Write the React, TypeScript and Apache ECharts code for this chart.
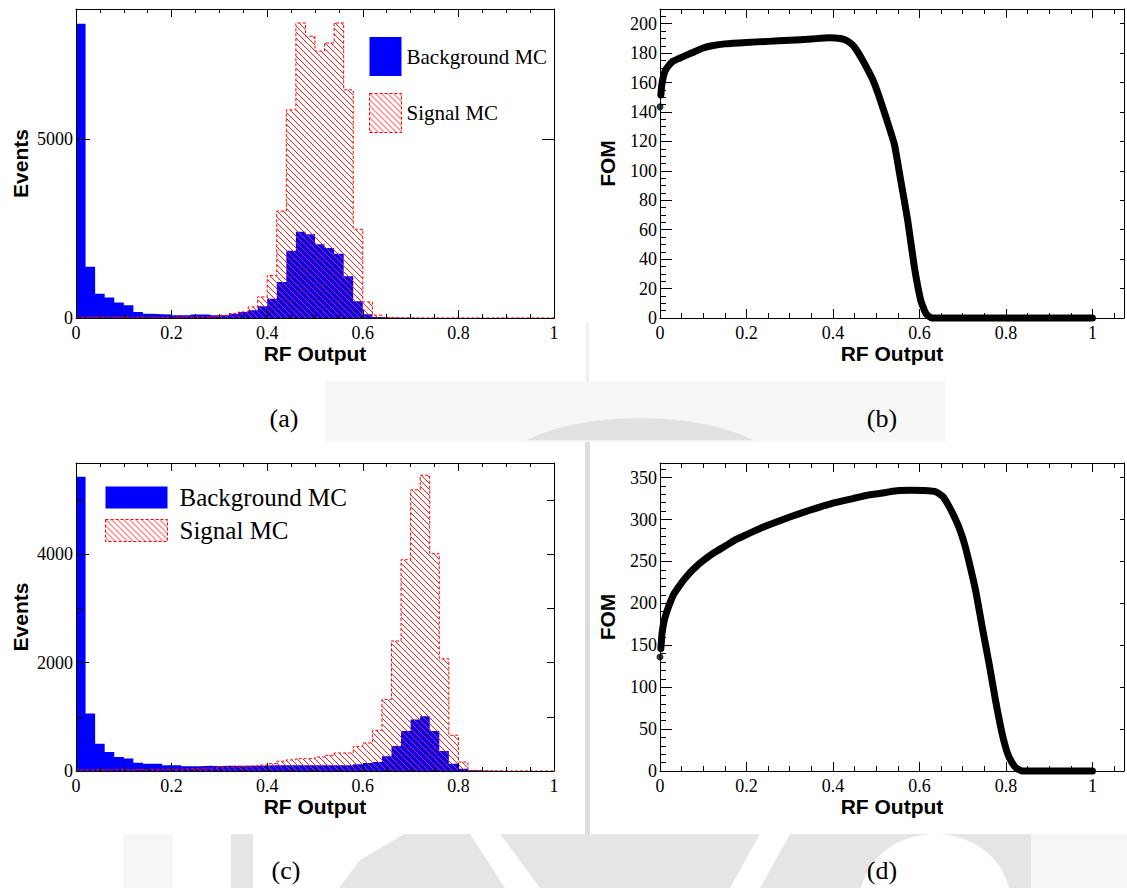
import React, { useEffect, useRef } from "react";
import * as echarts from "echarts";

// ---------------- data ----------------
const BIN_WIDTH = 0.02;

// panel (a) histograms (50 bins of 0.02 over RF output 0..1)
const bkgA = [
  8230, 1430, 680, 570, 430, 355, 170, 120, 105, 100,
  75, 75, 100, 100, 80, 75, 120, 170, 215, 330,
  540, 1010, 1880, 2410, 2340, 2060, 1960, 1800, 1170, 470,
  105, 25, 10, 6, 4, 3, 3, 2, 2, 2,
  2, 1, 1, 1, 1, 1, 1, 1, 1, 1,
];
const sigA = [
  18, 18, 20, 20, 22, 22, 24, 24, 26, 26,
  28, 30, 32, 36, 45, 75, 120, 170, 310, 590,
  1190, 2990, 5820, 8250, 7880, 7460, 7690, 8250, 6380, 2480,
  450, 80, 12, 5, 2, 2, 2, 2, 2, 2,
  2, 2, 2, 2, 2, 2, 2, 2, 2, 2,
];

// panel (c) histograms
const bkgC = [
  5430, 1060, 505, 350, 260, 230, 150, 135, 135, 105,
  105, 86, 86, 98, 86, 95, 98, 98, 98, 100,
  105, 105, 105, 105, 105, 105, 105, 105, 105, 123,
  148, 166, 270, 460, 740, 950, 1010, 740, 370, 135,
  43, 12, 5, 3, 2, 2, 1, 1, 1, 1,
];
const sigC = [
  20, 20, 22, 22, 25, 25, 28, 30, 32, 35,
  38, 45, 50, 55, 62, 70, 80, 88, 95, 110,
  135, 180, 205, 228, 228, 258, 290, 332, 332, 455,
  517, 750, 1320, 2400, 3900, 5190, 5460, 4010, 2070, 660,
  166, 12, 3, 2, 1, 1, 1, 1, 1, 1,
];

// panel (b) FOM curve (first point is the isolated dot at RF = 0)
const rfB = [
  0, 0.002, 0.004, 0.007, 0.012, 0.02, 0.03, 0.045, 0.06, 0.08,
  0.1, 0.12, 0.15, 0.2, 0.25, 0.3, 0.35, 0.39, 0.42, 0.435,
  0.45, 0.465, 0.48, 0.492, 0.505, 0.523, 0.542, 0.557, 0.573, 0.588,
  0.603, 0.615, 0.628, 1.0,
];
const fomB = [
  143.5, 151.5, 158, 163, 168, 171.5, 174.5, 176.5, 178.5, 181,
  183.5, 185, 186.3, 187.3, 188, 188.7, 189.6, 190.5, 189.8, 188,
  184, 177, 169, 162, 152, 136, 118, 93, 66, 35,
  12, 3, 0, 0,
];

// panel (d) FOM curve
const rfD = [
  0, 0.002, 0.005, 0.01, 0.017, 0.025, 0.032, 0.045, 0.055, 0.07,
  0.086, 0.1, 0.124, 0.15, 0.175, 0.2, 0.23, 0.254, 0.3, 0.346,
  0.4, 0.446, 0.485, 0.507, 0.53, 0.553, 0.58, 0.61, 0.638, 0.655,
  0.668, 0.68, 0.691, 0.703, 0.714, 0.73, 0.745, 0.761, 0.776, 0.791,
  0.803, 0.814, 0.825, 0.837, 1.0,
];
const fomD = [
  136, 146, 165, 180, 192, 203, 211, 221, 228, 237,
  245, 251, 260, 268, 276, 282, 289, 294, 303, 311,
  319.5, 325, 329.5, 331, 333, 334.5, 335, 334.5, 333, 327,
  316, 304, 291, 273, 251, 215, 172, 128, 84, 45,
  22, 10, 3, 0, 0,
];

const legendNames = ["Background MC", "Signal MC"];
const panelLetters = ["(a)", "(b)", "(c)", "(d)"];
const xTitle = "RF Output";
const yTitleHist = "Events";
const yTitleFom = "FOM";

// ---------------- styling helpers ----------------
const SERIF = "'Liberation Serif', 'Times New Roman', serif";
const SANS = "'Liberation Sans', Arial, Helvetica, sans-serif";
const BLACK = "#000";

function hatchPattern() {
  const size = 6;
  const c = document.createElement("canvas");
  c.width = size;
  c.height = size;
  const ctx = c.getContext("2d");
  if (ctx) {
    ctx.strokeStyle = "#ff1a1a";
    ctx.lineWidth = 1;
    ctx.beginPath();
    for (const off of [-size, 0, size]) {
      ctx.moveTo(off - 1, -1);
      ctx.lineTo(off + size + 1, size + 1);
    }
    ctx.stroke();
  }
  return { image: c.toDataURL(), repeat: "repeat", imageWidth: size, imageHeight: size };
}

function steps(vals: number[]) {
  const pts = vals.map((v, i) => [+(i * BIN_WIDTH).toFixed(3), v]);
  pts.push([+(vals.length * BIN_WIDTH).toFixed(3), vals[vals.length - 1]]);
  return pts;
}

function fmt(interval: number) {
  return (v: number) => {
    const r = v / interval;
    if (Math.abs(r - Math.round(r)) > 1e-6) return "";
    return String(parseFloat(v.toFixed(4)));
  };
}

type Panel = {
  grid: { left: number; top: number; width: number; height: number };
  xMax: number;
  yMax: number;
  yMajor: number;
  yMinor: number | null;
  yRight: number;
  yMajorLen: number;
  yMinorLen: number;
  yRightLen: number;
  xMajorLen: number;
  xMinorLen: number;
  yName: string;
  yNameGap: number;
};

const panels: Panel[] = [
  {
    grid: { left: 76, top: 9, width: 478, height: 309 },
    xMax: 1, yMax: 8640, yMajor: 5000, yMinor: null, yRight: 5000,
    yMajorLen: 14, yMinorLen: 7, yRightLen: 12, xMajorLen: 8, xMinorLen: 4,
    yName: yTitleHist, yNameGap: 45,
  },
  {
    grid: { left: 660, top: 9, width: 466, height: 309 },
    xMax: 1.073, yMax: 210, yMajor: 20, yMinor: 5, yRight: 20,
    yMajorLen: 12, yMinorLen: 6, yRightLen: 4, xMajorLen: 9, xMinorLen: 5,
    yName: yTitleFom, yNameGap: 42,
  },
  {
    grid: { left: 76, top: 463, width: 478, height: 308 },
    xMax: 1, yMax: 5685, yMajor: 2000, yMinor: 1000, yRight: 1000,
    yMajorLen: 13, yMinorLen: 7, yRightLen: 7, xMajorLen: 8, xMinorLen: 4,
    yName: yTitleHist, yNameGap: 45,
  },
  {
    grid: { left: 660, top: 463, width: 466, height: 308 },
    xMax: 1.073, yMax: 367.4, yMajor: 50, yMinor: 10, yRight: 50,
    yMajorLen: 12, yMinorLen: 6, yRightLen: 4, xMajorLen: 9, xMinorLen: 5,
    yName: yTitleFom, yNameGap: 42,
  },
];

function buildAxes(gi: number, p: Panel) {
  const line = { color: BLACK, width: 1 };
  const xBase = { type: "value", gridIndex: gi, min: 0, max: p.xMax, splitLine: { show: false }, z: 6 };
  const titleStyle = { fontFamily: SANS, fontWeight: "bold", fontSize: 21, color: BLACK };
  const xs = [
    {
      ...xBase, position: "bottom", interval: 0.2,
      axisLine: { show: true, onZero: false, lineStyle: line },
      axisTick: { show: true, inside: true, length: p.xMajorLen, lineStyle: line },
      axisLabel: { show: true, fontFamily: SERIF, fontSize: 18, color: BLACK, margin: 6, formatter: fmt(0.2) },
      name: xTitle, nameLocation: "middle", nameGap: 24, nameTextStyle: titleStyle,
    },
    {
      ...xBase, position: "bottom", interval: 0.05,
      axisLine: { show: false, onZero: false },
      axisTick: { show: true, inside: true, length: p.xMinorLen, lineStyle: line },
      axisLabel: { show: false },
    },
    {
      ...xBase, position: "top", interval: 0.2,
      axisLine: { show: true, onZero: false, lineStyle: line },
      axisTick: { show: true, inside: true, length: p.xMajorLen, lineStyle: line },
      axisLabel: { show: false },
    },
    {
      ...xBase, position: "top", interval: 0.05,
      axisLine: { show: false, onZero: false },
      axisTick: { show: true, inside: true, length: p.xMinorLen, lineStyle: line },
      axisLabel: { show: false },
    },
  ];
  const yBase = { type: "value", gridIndex: gi, min: 0, max: p.yMax, splitLine: { show: false }, z: 6 };
  const ys = [
    {
      ...yBase, position: "left", interval: p.yMajor,
      axisLine: { show: true, onZero: false, lineStyle: line },
      axisTick: { show: true, inside: true, length: p.yMajorLen, lineStyle: line },
      axisLabel: { show: true, fontFamily: SERIF, fontSize: 18, color: BLACK, margin: 3, formatter: fmt(p.yMajor) },
      name: p.yName, nameLocation: "middle", nameGap: p.yNameGap, nameTextStyle: titleStyle,
    },
    {
      ...yBase, position: "left", interval: p.yMinor ?? p.yMajor,
      axisLine: { show: false, onZero: false },
      axisTick: { show: p.yMinor != null, inside: true, length: p.yMinorLen, lineStyle: line },
      axisLabel: { show: false },
    },
    {
      ...yBase, position: "right", interval: p.yRight,
      axisLine: { show: true, onZero: false, lineStyle: line },
      axisTick: { show: true, inside: true, length: p.yRightLen, lineStyle: line },
      axisLabel: { show: false },
    },
  ];
  return { xs, ys };
}

function ellipsePts(cx: number, cy: number, rx: number, ry: number, a0: number, a1: number, n: number) {
  const pts: number[][] = [];
  for (let i = 0; i <= n; i++) {
    const a = a0 + ((a1 - a0) * i) / n;
    pts.push([cx + rx * Math.cos(a), cy + ry * Math.sin(a)]);
  }
  return pts;
}

function buildOption() {
  const hatch = hatchPattern();
  const xAxis: any[] = [];
  const yAxis: any[] = [];
  panels.forEach((p, gi) => {
    const { xs, ys } = buildAxes(gi, p);
    xAxis.push(...xs);
    yAxis.push(...ys);
  });

  const histSeries = (gi: number, bkg: number[], sig: number[]) => [
    {
      type: "line", name: legendNames[0], xAxisIndex: gi * 4, yAxisIndex: gi * 3,
      data: steps(bkg), step: "end", symbol: "none", silent: true,
      lineStyle: { width: 0, color: "#0000ff" },
      itemStyle: { color: "#0000ff" },
      areaStyle: { color: "#0000ff", opacity: 1 },
      z: 2,
    },
    {
      type: "line", name: legendNames[1], xAxisIndex: gi * 4, yAxisIndex: gi * 3,
      data: steps(sig), step: "end", symbol: "none", silent: true,
      lineStyle: { width: 1, color: "#ff0000", type: [3, 2] },
      itemStyle: { color: "#ff0000" },
      areaStyle: { color: hatch, opacity: 1 },
      z: 3,
    },
  ];

  const fomSeries = (gi: number, rf: number[], fom: number[]) => [
    {
      type: "line", xAxisIndex: gi * 4, yAxisIndex: gi * 3,
      data: rf.slice(1).map((x, i) => [x, fom[i + 1]]),
      symbol: "none", silent: true, clip: false, smooth: 0.15,
      lineStyle: { width: 7, color: BLACK, cap: "round", join: "round" },
      z: 3,
    },
    {
      type: "scatter", xAxisIndex: gi * 4, yAxisIndex: gi * 3,
      data: [[rf[0], fom[0]]], symbolSize: 7, silent: true, clip: false,
      itemStyle: { color: BLACK },
      z: 3,
    },
  ];

  const legendItems = [
    { name: legendNames[0], icon: "rect", itemStyle: { color: "#0000ff", borderWidth: 0 } },
    {
      name: legendNames[1], icon: "rect",
      itemStyle: { color: hatch, borderColor: "#ff0000", borderWidth: 1, borderType: [3, 2] },
    },
  ];

  const letterPos = [
    [284, 418],
    [882, 418],
    [286, 870],
    [882, 870],
  ];

  const wm = "#e5e5e5";
  const graphic: any[] = [
    // faint watermark remnants in the gaps between panels
    { type: "rect", shape: { x: 586, y: 322, width: 3, height: 60 }, style: { fill: "#f0f0f0" }, z: -5 },
    { type: "rect", shape: { x: 325, y: 381, width: 621, height: 61 }, style: { fill: "#f7f7f7" }, z: -5 },
    {
      type: "polygon",
      shape: { points: ellipsePts(640, 472, 140, 54, Math.PI, 2 * Math.PI, 40).filter((pt) => pt[1] <= 442) },
      style: { fill: "#e2e2e2" }, z: -4,
    },
    { type: "rect", shape: { x: 585, y: 442, width: 5, height: 392 }, style: { fill: "#dcdcdc" }, z: -5 },
    { type: "rect", shape: { x: 231, y: 834, width: 800, height: 54 }, style: { fill: wm }, z: -5 },
    { type: "rect", shape: { x: 123, y: 834, width: 50, height: 54 }, style: { fill: "#f6f6f6" }, z: -5 },
    { type: "rect", shape: { x: 1031, y: 834, width: 96, height: 54 }, style: { fill: "#f6f6f6" }, z: -5 },
    { type: "rect", shape: { x: 253, y: 834, width: 86, height: 54 }, style: { fill: "#fff" }, z: -4 },
    { type: "polygon", shape: { points: [[339, 888], [360, 860], [404, 834], [339, 834]] }, style: { fill: "#fff" }, z: -4 },
    { type: "polygon", shape: { points: [[470, 834], [500, 834], [540, 888], [505, 888]] }, style: { fill: "#fff" }, z: -4 },
    { type: "polygon", shape: { points: [[760, 834], [790, 834], [760, 888], [730, 888]] }, style: { fill: "#fff" }, z: -4 },
    {
      type: "polygon",
      shape: { points: ellipsePts(935, 900, 75, 66, Math.PI, 2 * Math.PI, 30) },
      style: { fill: "#fff" }, z: -4,
    },
    ...panelLetters.map((t, i) => ({
      type: "text", x: letterPos[i][0], y: letterPos[i][1], z: 10,
      style: { text: t, fontFamily: SERIF, fontSize: 26, fill: BLACK, align: "center", verticalAlign: "middle" },
    })),
  ];

  return {
    animation: false,
    backgroundColor: "#ffffff",
    grid: panels.map((p) => ({ ...p.grid, containLabel: false })),
    xAxis,
    yAxis,
    legend: [
      {
        orient: "vertical", left: 369, top: 37, padding: 0,
        itemWidth: 32, itemHeight: 39, itemGap: 17, selectedMode: false,
        data: legendItems,
        textStyle: { fontFamily: SERIF, fontSize: 21, color: BLACK },
      },
      {
        orient: "vertical", left: 105, top: 485, padding: 0,
        itemWidth: 62, itemHeight: 22, itemGap: 8, selectedMode: false,
        data: legendItems,
        textStyle: { fontFamily: SERIF, fontSize: 25, color: BLACK, padding: [0, 0, 0, 7] },
      },
    ],
    series: [
      ...histSeries(0, bkgA, sigA),
      ...fomSeries(1, rfB, fomB),
      ...histSeries(2, bkgC, sigC),
      ...fomSeries(3, rfD, fomD),
    ],
    graphic,
  };
}

export default function App() {
  const ref = useRef<HTMLDivElement>(null);
  useEffect(() => {
    if (!ref.current) return;
    const chart = echarts.init(ref.current, undefined, { renderer: "svg" });
    chart.setOption(buildOption() as any);
    return () => chart.dispose();
  }, []);
  return (
    <div
      ref={ref}
      style={{ position: "fixed", left: 0, top: 0, width: 1127, height: 888, background: "#fff" }}
    />
  );
}
